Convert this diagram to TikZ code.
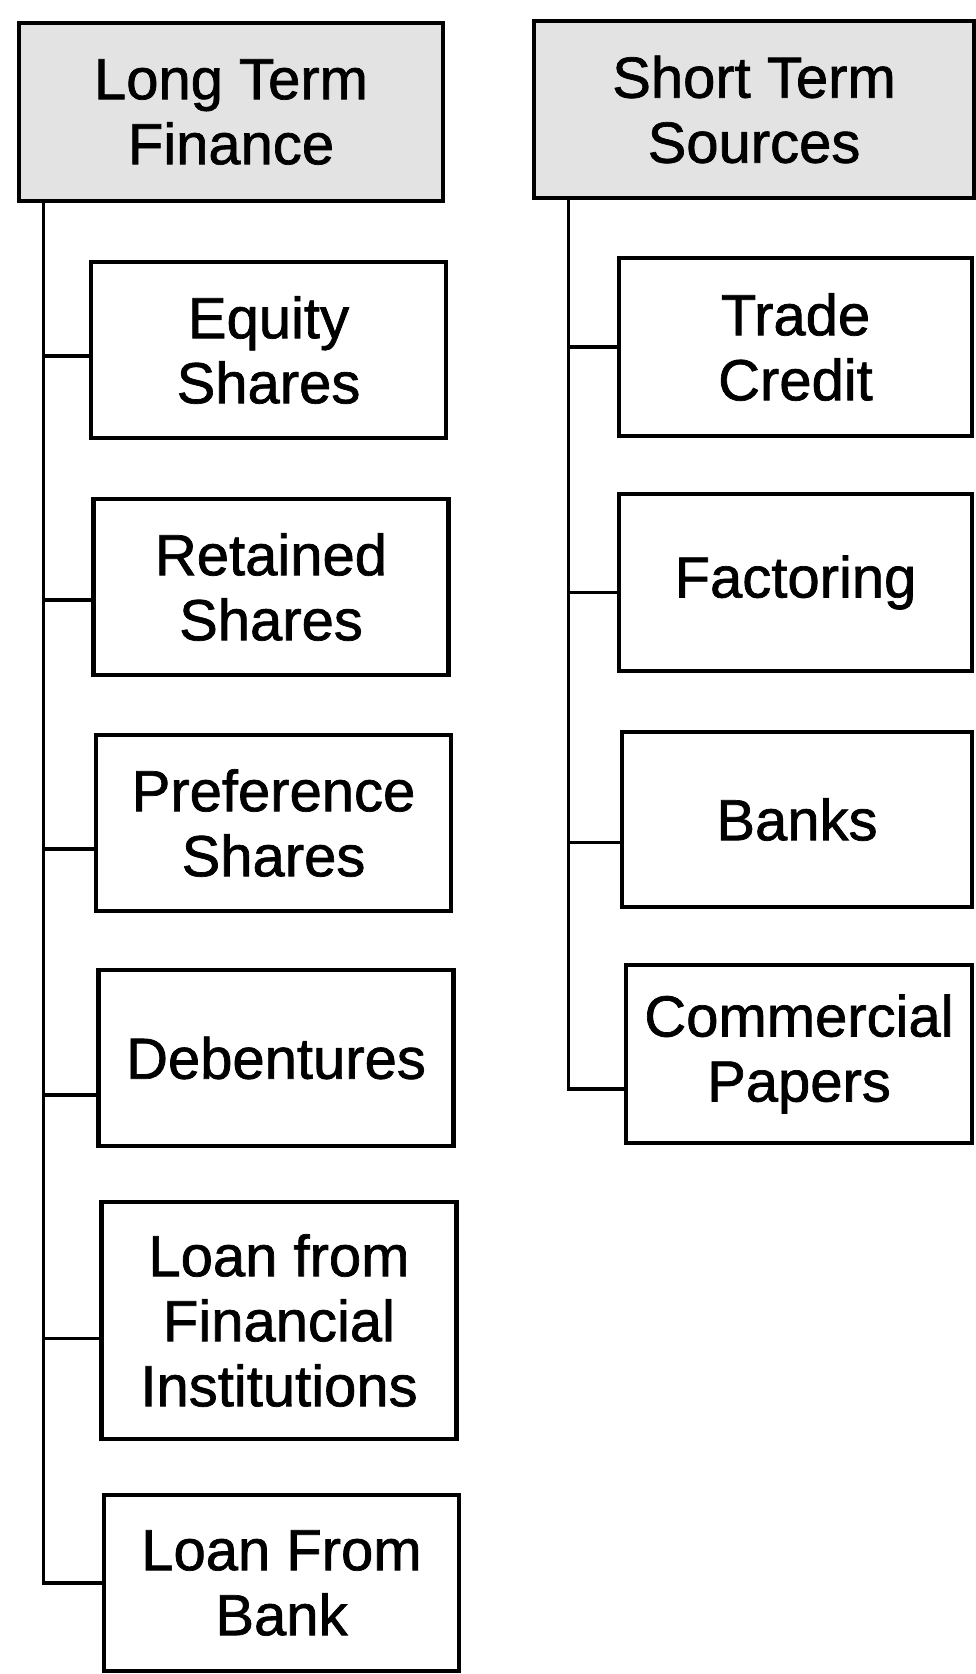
\documentclass[tikz,border=0pt]{standalone}
\usepackage{fontspec}
\setmainfont{Liberation Sans}[FakeBold=1.2]

\begin{document}
\begin{tikzpicture}[line width=1pt]
\tikzstyle{box}=[rectangle,draw,black,line width=1.3pt,align=center,inner sep=0pt,minimum width=3.55cm,minimum height=1.76cm,font=\fontsize{16.5}{18.5}\selectfont]
\tikzstyle{head}=[box,fill=gray!22]
\useasboundingbox (0,0) rectangle (9.75,-16.74);

\node[head,minimum width=4.24cm,minimum height=1.78cm](LT) at (2.31,-1.12) {Long Term\\Finance};
\node[head,minimum width=4.40cm,minimum height=1.77cm](ST) at (7.54,-1.095) {Short Term\\Sources};

% long term side
\node[box](E) at (2.685,-3.50) {Equity\\Shares};
\node[box](R) at (2.71,-5.87) {Retained\\Shares};
\node[box](P) at (2.735,-8.23) {Preference\\Shares};
\node[box](D) at (2.76,-10.58) {Debentures};
\node[box,minimum height=2.37cm](LF) at (2.79,-13.205) {Loan from\\Financial\\Institutions};
\node[box](LB) at (2.815,-15.83) {Loan From\\Bank};

% short term side
\node[box,minimum width=3.53cm,minimum height=1.78cm](T) at (7.955,-3.47) {Trade\\Credit};
\node[box,minimum width=3.53cm,minimum height=1.77cm](F) at (7.955,-5.825) {Factoring};
\node[box,minimum width=3.50cm,minimum height=1.75cm](B) at (7.97,-8.195) {Banks};
\node[box,minimum width=3.46cm,minimum height=1.78cm](C) at (7.99,-10.54) {Commercial\\Papers};

\coordinate (lt) at ([xshift=2.7mm]LT.south west);
\coordinate (st) at ([xshift=3.7mm]ST.south west);

\foreach \n/\s in {E/0.6,R/1.3,P/2.6,D/3.7,LF/1.8,LB/0}
  \draw (lt) |- ([yshift=-\s mm]\n.west);
\foreach \n/\s in {T/0,F/1.0,B/2.3,C/3.5}
  \draw (st) |- ([yshift=-\s mm]\n.west);

\end{tikzpicture}
\end{document}
